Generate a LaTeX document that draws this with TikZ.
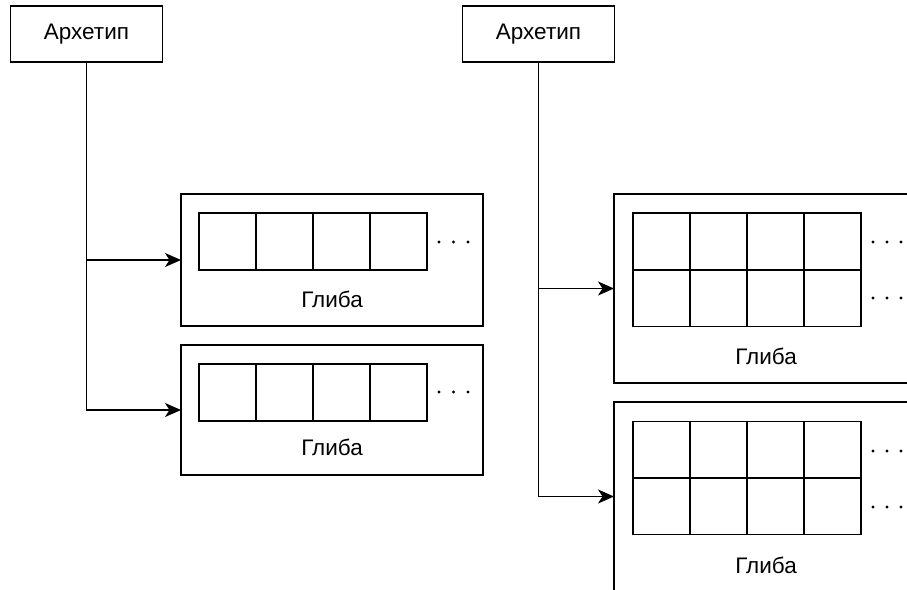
\documentclass[tikz,border=0pt]{standalone}
\usepackage{fontspec}
\setmainfont{Liberation Sans}
\usetikzlibrary{arrows.meta}
\tikzset{
  line/.style={line width=1.8pt, draw=black},
  arch/.style={line, rectangle, minimum width=152pt, minimum height=56pt, inner sep=0pt, outer sep=0pt,
    font=\fontsize{22.5}{27}\selectfont},
  glyphbox/.style={line, rectangle, minimum width=302pt, inner sep=0pt, outer sep=0pt},
  lbl/.style={font=\fontsize{22.5}{27}\selectfont, inner sep=0pt},
  cell/.style={line, rectangle, minimum width=57pt, minimum height=57pt, inner sep=0pt, outer sep=0pt},
  conn/.style={line width=1.8pt, -{Stealth[length=16pt, width=14pt, inset=4.5pt]}},
  dot/.style={fill=black, circle, inner sep=0pt, minimum size=3.2pt},
}
\begin{document}
\begin{tikzpicture}[x=1pt, y=-1pt]
\clip (0,0) rectangle (907,589);
\fill[white] (0,0) rectangle (907,589);

% archetypes
\node[arch] (a1) at (86.5,34) {Архетип};
\node[arch] (a2) at (538.5,34) {Архетип};

% glyph frames
\node[glyphbox, minimum height=132pt] (g1) at (332,260) {};
\node[glyphbox, minimum height=130pt] (g2) at (332,410) {};
\node[glyphbox, minimum height=189pt] (g3) at (765,288.5) {};
\node[glyphbox, minimum height=189pt] (g4) at (765,496.5) {};

% cell rows: single row in the left glyphs, two rows in the right ones
\foreach \i in {0,1,2,3} {
  \node[cell] (c1\i) at (227.5+57*\i, 241.5) {};
  \node[cell] (c2\i) at (227.5+57*\i, 392.5) {};
  \node[cell] (c3a\i) at (661.5+57*\i, 241.5) {};
  \node[cell] (c3b\i) at (661.5+57*\i, 298) {};
  \node[cell] (c4a\i) at (661.5+57*\i, 450) {};
  \node[cell] (c4b\i) at (661.5+57*\i, 506) {};
}

% ellipses after each row
\foreach \y in {242, 392} {
  \foreach \x in {439, 453.5, 468} { \node[dot] at (\x,\y) {}; }
}
\foreach \y in {242, 298, 451, 507} {
  \foreach \x in {873, 887, 901} { \node[dot] at (\x,\y) {}; }
}

% glyph captions
\node[lbl] (t1) at (332,299) {Глиба};
\node[lbl] (t2) at (332,447) {Глиба};
\node[lbl] (t3) at (766,356) {Глиба};
\node[lbl] (t4) at (766,565) {Глиба};

% connectors
\draw[conn] (a1.south) |- (g1.west);
\draw[conn] (a1.south) |- (g2.west);
\draw[conn] (a2.south) |- (g3.west);
\draw[conn] (a2.south) |- (g4.west);
\end{tikzpicture}
\end{document}
